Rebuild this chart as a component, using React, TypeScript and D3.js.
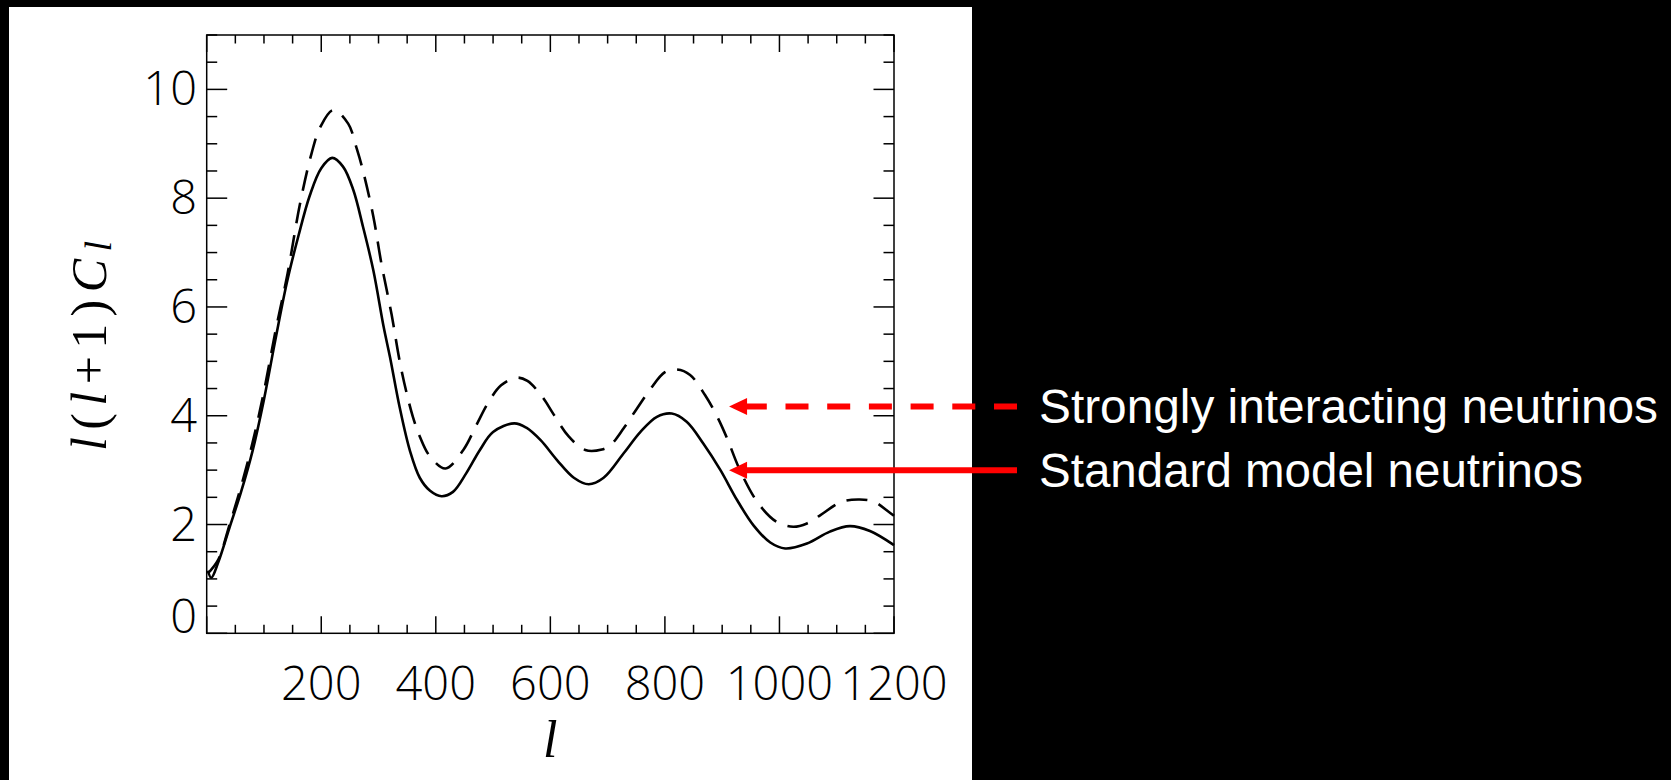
import React, { useEffect } from "react";
import * as d3 from "d3";

// ---- data ----
const lSolid = [2, 8, 20, 40, 60, 80, 100, 120, 140, 160, 180, 200, 219, 238, 256, 273, 291, 309, 320, 337, 355, 372, 390, 410, 430, 453, 477, 500, 537, 558, 583, 612, 641, 667, 693, 728, 757, 786, 812, 838, 867, 897, 926, 955, 984, 1010, 1048, 1088, 1123, 1158, 1200];
const vSolid = [1.15, 1.02, 1.3, 1.95, 2.6, 3.35, 4.3, 5.4, 6.45, 7.3, 8.05, 8.55, 8.74, 8.58, 8.15, 7.47, 6.67, 5.63, 5.08, 4.15, 3.35, 2.86, 2.62, 2.52, 2.6, 2.94, 3.37, 3.7, 3.86, 3.78, 3.55, 3.18, 2.86, 2.74, 2.86, 3.31, 3.7, 3.98, 4.04, 3.89, 3.49, 3.0, 2.45, 1.98, 1.67, 1.56, 1.65, 1.87, 1.97, 1.88, 1.62];

const lDashed = [2, 20, 40, 60, 80, 100, 120, 141, 163, 183, 198, 221, 247, 262, 273, 291, 305, 323, 337, 349, 360, 372, 390, 417, 448, 471, 491, 514, 541, 560, 585, 606, 632, 661, 690, 705, 728, 751, 774, 800, 821, 844, 870, 891, 908, 931, 963, 995, 1024, 1048, 1071, 1109, 1140, 1165, 1190, 1200];
const vDashed = [1.1, 1.35, 2.0, 2.7, 3.5, 4.45, 5.55, 6.6, 7.9, 8.82, 9.3, 9.62, 9.37, 8.91, 8.5, 7.66, 6.8, 5.85, 5.0, 4.42, 3.98, 3.62, 3.25, 3.03, 3.37, 3.83, 4.23, 4.56, 4.7, 4.64, 4.36, 4.02, 3.62, 3.37, 3.38, 3.46, 3.77, 4.13, 4.48, 4.8, 4.85, 4.75, 4.38, 3.99, 3.6, 3.0, 2.39, 2.05, 1.96, 2.02, 2.17, 2.42, 2.46, 2.42, 2.24, 2.16];

const xTickLabels = [200, 400, 600, 800, 1000, 1200];
const yTickLabels = [0, 2, 4, 6, 8, 10];
const legendLabels = ["Strongly interacting neutrinos", "Standard model neutrinos"];
const legendLevels = [4.17, 3.0];
const arrowTipL = 912;

const W = 1671;
const H = 780;

export default function App() {
  useEffect(() => {
    document.body.style.margin = "0";
    document.body.style.background = "#000";
  }, []);

  const x = d3.scaleLinear().domain([0, 1200]).range([206.7, 894]);
  const y = d3.scaleLinear().domain([0, 11]).range([633.3, 35]);

  const line = d3
    .line<[number, number]>()
    .x((d) => x(d[0]))
    .y((d) => y(d[1]))
    .curve(d3.curveCatmullRom.alpha(0.5));

  const solidPts = lSolid.map((l, i) => [l, vSolid[i]] as [number, number]);
  const dashedPts = lDashed.map((l, i) => [l, vDashed[i]] as [number, number]);

  const xTicks = d3.range(0, 1201, 50);
  const yTicks = d3.range(0, 11.01, 0.5);

  const [x0, x1] = x.range();
  const [yb, yt] = y.range();

  const tickFont = "'Open Sans', 'DejaVu Sans', sans-serif";
  const serif = "'Liberation Serif', serif";

  const arrowRight = 1017;
  const tipX = x(arrowTipL);
  const headLen = 18;
  const headHalf = 8.5;

  return (
    <svg
      width={W}
      height={H}
      style={{ position: "absolute", left: 0, top: 0, display: "block" }}
    >
      <rect x={0} y={0} width={W} height={H} fill="#000" />
      <rect x={9} y={7} width={963} height={H - 7} fill="#fff" />

      {/* curves */}
      <path d={line(solidPts) || ""} fill="none" stroke="#000" strokeWidth={2.6} />
      <path
        d={line(dashedPts) || ""}
        fill="none"
        stroke="#000"
        strokeWidth={2.6}
        strokeDasharray="21 12"
      />

      {/* frame */}
      <rect x={x0} y={yt} width={x1 - x0} height={yb - yt} fill="none" stroke="#000" strokeWidth={1.5} />

      {/* x ticks */}
      {xTicks.map((t) => {
        const major = t % 200 === 0;
        const len = major ? 17 : 8.5;
        return (
          <g key={"xt" + t}>
            <line x1={x(t)} x2={x(t)} y1={yb} y2={yb - len} stroke="#000" strokeWidth={1.5} />
            <line x1={x(t)} x2={x(t)} y1={yt} y2={yt + len} stroke="#000" strokeWidth={1.5} />
          </g>
        );
      })}
      {/* y ticks */}
      {yTicks.map((t) => {
        const major = Math.abs(t % 2) < 1e-6;
        const len = major ? 20.5 : 10.5;
        return (
          <g key={"yt" + t}>
            <line x1={x0} x2={x0 + len} y1={y(t)} y2={y(t)} stroke="#000" strokeWidth={1.5} />
            <line x1={x1} x2={x1 - len} y1={y(t)} y2={y(t)} stroke="#000" strokeWidth={1.5} />
          </g>
        );
      })}

      {/* tick labels */}
      {xTickLabels.map((t) => (
        <text
          key={"xl" + t}
          x={x(t)}
          y={700}
          textAnchor="middle"
          fontFamily={tickFont}
          fontWeight={300}
          fontSize={47}
          fill="#000"
        >
          {t}
        </text>
      ))}
      {yTickLabels.map((t) => (
        <text
          key={"yl" + t}
          x={197}
          y={t === 0 ? yb : y(t) + 16}
          textAnchor="end"
          fontFamily={tickFont}
          fontWeight={300}
          fontSize={47}
          fill="#000"
        >
          {t}
        </text>
      ))}

      {/* axis titles */}
      <text
        x={(x0 + x1) / 2}
        y={757}
        textAnchor="middle"
        fontFamily={serif}
        fontStyle="italic"
        fontSize={52}
        fill="#000"
      >
        l
      </text>
      <text
        transform={`translate(106, 346) rotate(-90)`}
        textAnchor="middle"
        fontFamily={serif}
        fontSize={50}
        textLength={210}
        lengthAdjust="spacing"
        fill="#000"
      >
        <tspan fontStyle="italic">l</tspan>
        <tspan>(</tspan>
        <tspan fontStyle="italic">l</tspan>
        <tspan>+1)</tspan>
        <tspan fontStyle="italic">C</tspan>
        <tspan fontStyle="italic" fontSize={38} dy={5}>l</tspan>
      </text>

      {/* annotation arrows */}
      {legendLevels.map((v, i) => {
        const yy = y(v);
        return (
          <g key={"arr" + i}>
            <line
              x1={arrowRight}
              x2={tipX + headLen - 1}
              y1={yy}
              y2={yy}
              stroke="#ff0000"
              strokeWidth={6}
              strokeDasharray={i === 0 ? "23 18.7" : undefined}
            />
            <path
              d={`M${tipX},${yy} L${tipX + headLen},${yy - headHalf} L${tipX + headLen},${yy + headHalf} Z`}
              fill="#ff0000"
            />
            <text
              x={1039}
              y={yy + 17}
              fontFamily="'Liberation Sans', Arial, sans-serif"
              fontSize={48}
              fill="#fff"
              textLength={i === 0 ? 619 : 544}
              lengthAdjust="spacingAndGlyphs"
            >
              {legendLabels[i]}
            </text>
          </g>
        );
      })}
    </svg>
  );
}
